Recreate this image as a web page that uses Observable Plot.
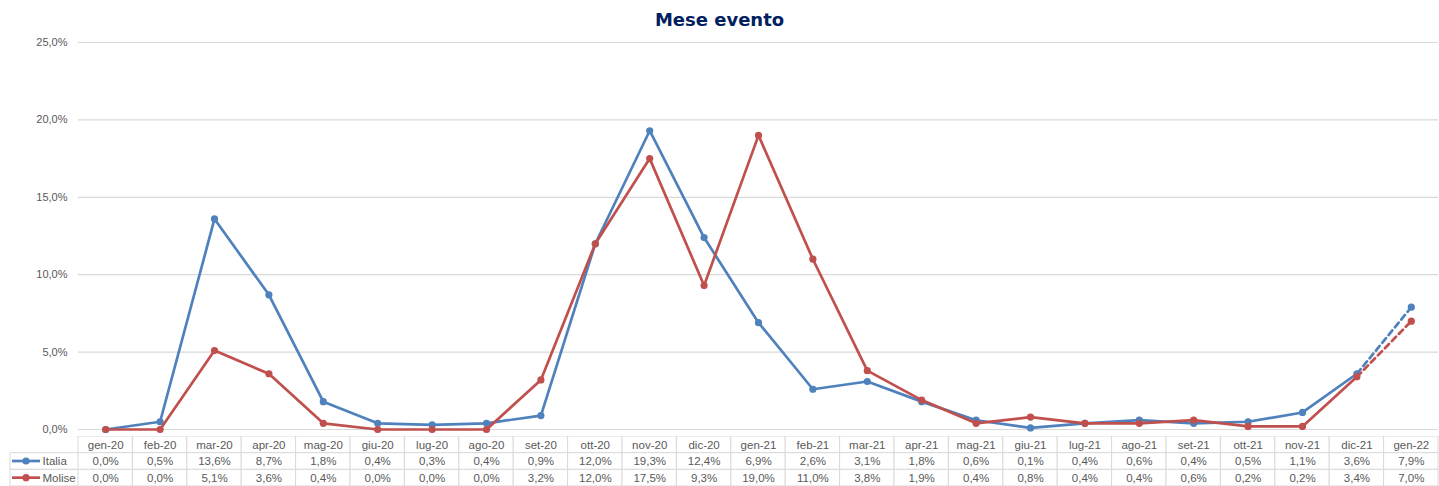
<!DOCTYPE html>
<html>
<head>
<meta charset="utf-8">
<script src="https://cdn.jsdelivr.net/npm/d3@7"></script>
<script src="https://cdn.jsdelivr.net/npm/@observablehq/plot@0.6"></script>
<style>
  html, body { margin: 0; padding: 0; background: #fff; }
  #wrap { position: relative; width: 1439px; height: 486px; overflow: hidden; }
  #title { position: absolute; left: 0; top: 0; width: 1439px; text-align: center;
    font-family: "DejaVu Sans", Verdana, sans-serif; font-weight: bold; font-size: 18px;
    color: #002060; line-height: 40px; }
  svg { display: block; }
</style>
</head>
<body>
<div id="wrap">
  <div id="chart"></div>
  <div id="table"></div>
  <div id="title">Mese evento</div>
</div>
<script>
const months = ["gen-20","feb-20","mar-20","apr-20","mag-20","giu-20","lug-20","ago-20","set-20","ott-20","nov-20","dic-20","gen-21","feb-21","mar-21","apr-21","mag-21","giu-21","lug-21","ago-21","set-21","ott-21","nov-21","dic-21","gen-22"];
const italia = [0.0,0.5,13.6,8.7,1.8,0.4,0.3,0.4,0.9,12.0,19.3,12.4,6.9,2.6,3.1,1.8,0.6,0.1,0.4,0.6,0.4,0.5,1.1,3.6,7.9];
const molise = [0.0,0.0,5.1,3.6,0.4,0.0,0.0,0.0,3.2,12.0,17.5,9.3,19.0,11.0,3.8,1.9,0.4,0.8,0.4,0.4,0.6,0.2,0.2,3.4,7.0];
const yTicks = [0, 5, 10, 15, 20, 25];
const seriesNames = ["Italia", "Molise"];
const seriesColors = ["#4F81BD", "#C0504D"];

const fmt = v => v.toFixed(1).replace(".", ",") + "%";
const FONT = "Liberation Sans, Arial, sans-serif";

const series = [italia, molise].map((vals, s) =>
  vals.map((v, i) => ({ month: months[i], value: v, i, series: seriesNames[s] })));
const solidEnd = months.length - 2;

const lineMarks = [];
series.forEach((data, s) => {
  const c = seriesColors[s];
  lineMarks.push(Plot.line(data.filter(d => d.i <= solidEnd), { x: "month", y: "value", stroke: c, strokeWidth: 2.7 }));
  lineMarks.push(Plot.line(data.filter(d => d.i >= solidEnd), { x: "month", y: "value", stroke: c, strokeWidth: 2.7, strokeDasharray: "6,4" }));
  lineMarks.push(Plot.dot(data, { x: "month", y: "value", fill: c, r: 3.6 }));
});

const chart = Plot.plot({
  width: 1439, height: 436,
  marginTop: 42, marginBottom: 7, marginLeft: 78, marginRight: 1,
  style: { fontFamily: FONT, background: "transparent" },
  x: { type: "band", domain: months, padding: 0, round: false, axis: null },
  y: { domain: [0, 25], axis: null, label: null },
  marks: [
    Plot.gridY(yTicks, { stroke: "#d9d9d9", strokeOpacity: 1, strokeWidth: 1.2 }),
    Plot.axisY(yTicks, { tickSize: 0, tickPadding: 11, tickFormat: fmt, fontSize: 11, fill: "#595959", label: null }),
    ...lineMarks
  ]
});
document.getElementById("chart").appendChild(chart);

const rows = ["mese", "Italia", "Molise"];
const cells = [];
months.forEach((m, i) => {
  cells.push({ month: m, row: "mese", text: m });
  cells.push({ month: m, row: "Italia", text: fmt(italia[i]) });
  cells.push({ month: m, row: "Molise", text: fmt(molise[i]) });
});

const table = Plot.plot({
  width: 1439, height: 50,
  marginTop: 0, marginBottom: 0, marginLeft: 78, marginRight: 1,
  style: { fontFamily: FONT, background: "transparent" },
  x: { type: "band", domain: months, padding: 0, round: false, axis: null },
  y: { type: "band", domain: rows, padding: 0, round: false, axis: null, label: null },
  marks: [
    Plot.cell(cells, { x: "month", y: "row", fill: "white", stroke: "#d9d9d9", strokeWidth: 1, inset: 0 }),
    Plot.text(cells, { x: "month", y: "row", text: "text", fontSize: 11.5, fill: "#595959" }),
    Plot.axisY(["Italia", "Molise"], { tickSize: 0, textAnchor: "start", dx: -27, fontSize: 11.5, fill: "#595959", label: null })
  ]
});
document.getElementById("table").appendChild(table);

// left legend column of the data table
const ys = table.scale("y");
const svg = d3.select(table);
const g = svg.append("g");
["Italia", "Molise"].forEach((r, k) => {
  const top = ys.apply(r), bw = ys.bandwidth, mid = top + bw / 2;
  g.append("line").attr("x1", 10).attr("x2", 78).attr("y1", top).attr("y2", top).attr("stroke", "#d9d9d9");
  g.append("line").attr("x1", 10).attr("x2", 78).attr("y1", top + bw).attr("y2", top + bw).attr("stroke", "#d9d9d9");
  g.append("line").attr("x1", 10).attr("x2", 10).attr("y1", top).attr("y2", top + bw).attr("stroke", "#d9d9d9");
  g.append("line").attr("x1", 12).attr("x2", 40).attr("y1", mid).attr("y2", mid).attr("stroke", seriesColors[k]).attr("stroke-width", 2.7);
  g.append("circle").attr("cx", 26).attr("cy", mid).attr("r", 3.6).attr("fill", seriesColors[k]);
});
</script>
</body>
</html>
